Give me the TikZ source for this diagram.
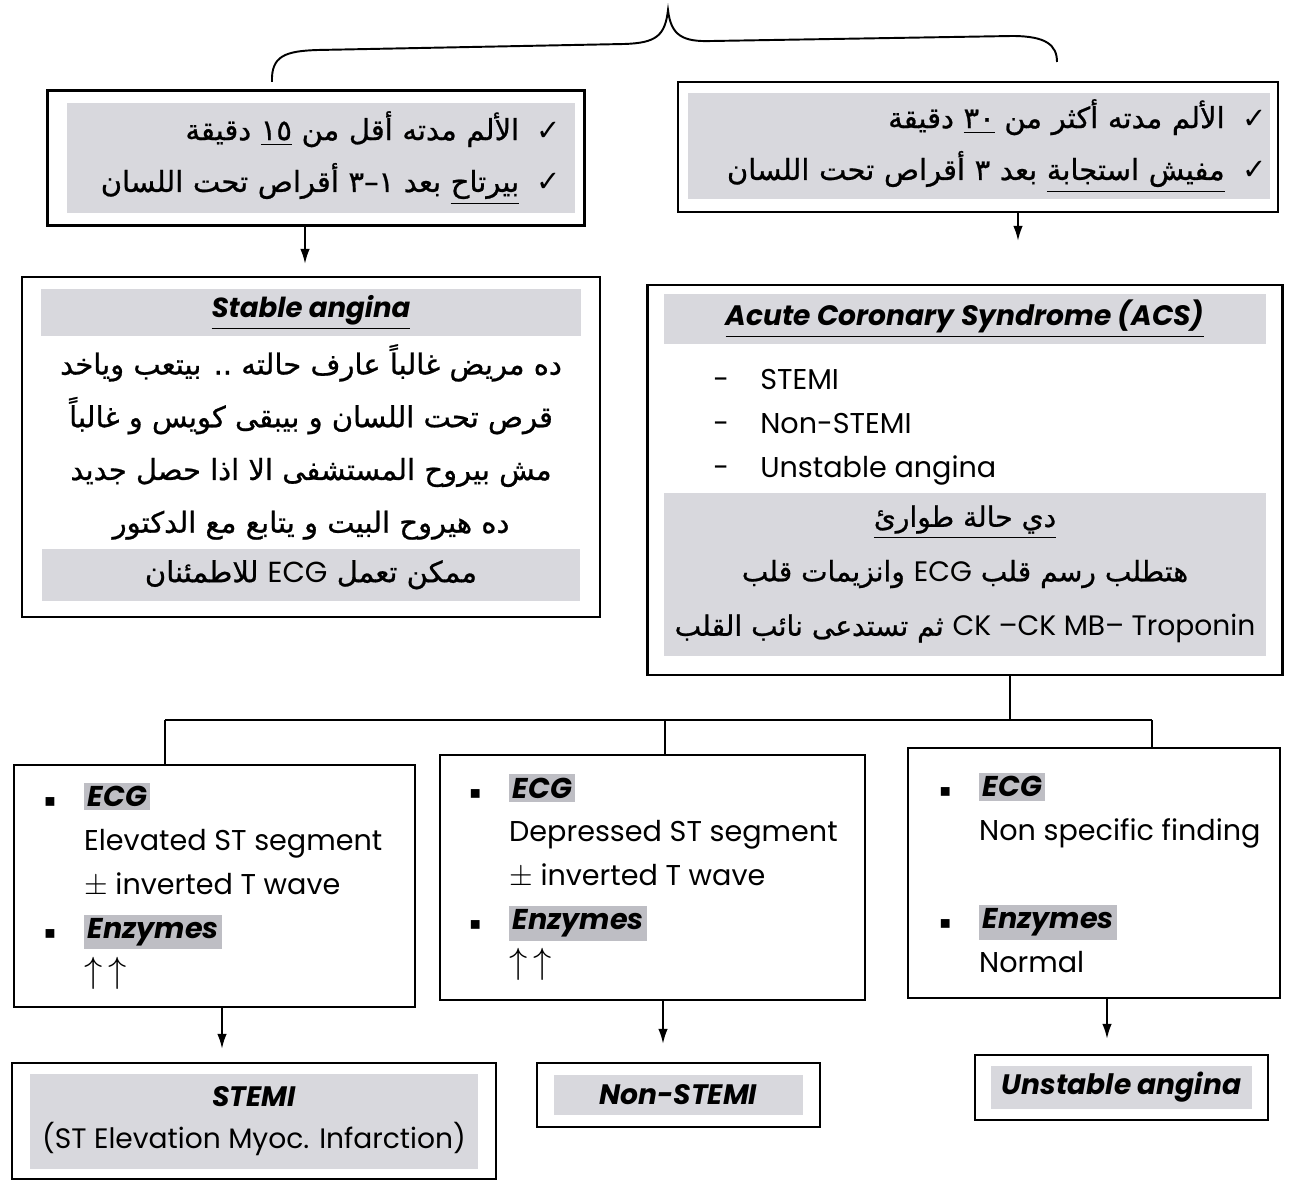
\documentclass[tikz,border=0pt]{standalone}
\usepackage{fontspec}
\usepackage{amssymb}
\setmainfont{Poppins}
\newfontfamily\arabicfont[Script=Arabic, FakeBold=0.8]{DejaVu Sans}
\newfontfamily\symfont{DejaVu Sans}
\usetikzlibrary{arrows.meta}
\usetikzlibrary{positioning}
\TeXXeTstate=1

\definecolor{bandgray}{RGB}{216,216,221}
\definecolor{hlgray}{RGB}{190,190,196}

\newcommand{\arab}[1]{\leavevmode{\arabicfont\beginR #1\endR}}
\newcommand{\entxt}[1]{{\rmfamily #1}}
\newcommand{\chk}{{\symfont ✓}\hspace{0.35cm}}
\newcommand{\hlbox}[1]{{\setlength{\fboxsep}{2pt}\colorbox{hlgray}{\textbf{\textit{#1}}}}}
\newcommand{\bul}{\makebox[0.8cm][l]{\symfont\fontsize{10}{10}\selectfont ▪}}
\newcommand{\indt}{\hspace*{0.8cm}}
\newcommand{\ttl}[1]{\underline{\textbf{\textit{#1}}}}
\newcommand{\upup}{{\fontsize{20}{20}\selectfont$\uparrow\,\uparrow$}}

\begin{document}
\begin{tikzpicture}
  [
    x=0.02cm, y=-0.02cm,
    every node/.style={align=center, inner sep=0pt},
    boxframe/.style={draw, line width=1.3pt, fill=white},
    band/.style={fill=bandgray},
    arabtxt/.style={font=\fontsize{16.5}{29.5}\selectfont},
    findings/.style={align=left, font=\fontsize{16.3}{25}\selectfont},
    diag/.style={font=\fontsize{16}{24}\selectfont},
    link/.style={line width=1.1pt},
    arr/.style={link, -{Latex[length=0.3cm, width=0.19cm]}}
  ]

  \useasboundingbox (0,0) rectangle (1290,1182);

  % brace over both cases
  \draw[link] (272,82) .. controls (271,56) and (285,51) .. (318,50) -- (624,44)
    .. controls (656,43) and (665,36) .. (668,10)
    .. controls (671,36) and (683,42) .. (712,41) -- (1012,36)
    .. controls (1046,36) and (1057,45) .. (1057,62);

  % the two cases
  \node[boxframe, minimum width=10.74cm, minimum height=2.7cm] (short) at (316,158) {};
  \node[band, arabtxt, minimum width=10.16cm, minimum height=2.22cm, text width=9.6cm, align=right] (shorttxt) at (321,158)
    {\arab{\chk الألم مدته أقل من \underline{١٥} دقيقة}\\
     \arab{\chk\underline{بيرتاح} بعد ١–٣ أقراص تحت اللسان}};

  \node[boxframe, minimum width=12cm, minimum height=2.6cm] (long) at (978,147) {};
  \node[band, arabtxt, minimum width=11.64cm, minimum height=2.14cm, text width=11.5cm, align=right] (longtxt) at (979,146)
    {\arab{\chk الألم مدته أكثر من \underline{٣٠} دقيقة}\\
     \arab{\chk\underline{\beginR مفيش استجابة\endR} بعد ٣ أقراص تحت اللسان}};

  % stable angina
  \node[boxframe, minimum width=11.56cm, minimum height=6.8cm] (stab) at (311,447) {};
  \node[band, minimum width=10.8cm, minimum height=0.94cm, below=0.26cm of stab.north, font=\fontsize{15.7}{18}\selectfont] (stabttl)
    {\ttl{Stable angina}};
  \node[font=\fontsize{16.5}{30}\selectfont] (stabtxt) at (311,442)
    {\arab{ده مريض غالباً عارف حالته .. بيتعب وياخد}\\
     \arab{قرص تحت اللسان و بيبقى كويس و غالباً}\\
     \arab{مش بيروح المستشفى الا اذا حصل جديد}\\
     \arab{ده هيروح البيت و يتابع مع الدكتور}};
  \node[band, arabtxt, minimum width=10.76cm, minimum height=1.04cm, above=0.34cm of stab.south] (stabecg)
    {\arab{ممكن تعمل \entxt{ECG} للاطمئنان}};

  % acute coronary syndrome
  \node[boxframe, minimum width=12.7cm, minimum height=7.8cm] (acs) at (965,480) {};
  \node[band, minimum width=12.04cm, minimum height=1cm, below=0.2cm of acs.north, font=\fontsize{16}{18}\selectfont] (acsttl)
    {\ttl{Acute Coronary Syndrome (ACS)}};
  \node[findings, anchor=west] (acslist) at (713,427)
    {\makebox[0.94cm][l]{-}STEMI\\ \makebox[0.94cm][l]{-}Non-STEMI\\ \makebox[0.94cm][l]{-}Unstable angina};
  \node[band, minimum width=12.04cm, minimum height=3.26cm, above=0.4cm of acs.south, font=\fontsize{16}{31}\selectfont] (acser)
    {\arab{\underline{\beginR دي حالة طوارئ\endR}}\\
     \arab{هتطلب رسم قلب \entxt{ECG} وانزيمات قلب}\\
     \arab{\beginL\entxt{CK –CK MB– Troponin}\endL{} ثم تستدعى نائب القلب}};

  % findings
  \node[boxframe, minimum width=8.02cm, minimum height=4.84cm] (ste) at (214.5,886) {};
  \node[findings, right=0.62cm of ste.west] (stetxt)
    {\bul\hlbox{ECG}\\ \indt Elevated ST segment\\ \indt $\pm$ inverted T wave\\ \bul\hlbox{Enzymes}\\ \indt\upup};

  \node[boxframe, minimum width=8.5cm, minimum height=4.9cm] (nste) at (652.5,877.5) {};
  \node[findings, right=0.6cm of nste.west] (nstetxt)
    {\bul\hlbox{ECG}\\ \indt Depressed ST segment\\ \indt $\pm$ inverted T wave\\ \bul\hlbox{Enzymes}\\ \indt\upup};

  \node[boxframe, minimum width=7.44cm, minimum height=5cm] (ua) at (1094,873) {};
  \node[findings, right=0.64cm of ua.west] (uatxt)
    {\bul\hlbox{ECG}\\ \indt Non specific finding\\[25pt] \bul\hlbox{Enzymes}\\ \indt Normal};

  % diagnoses
  \node[boxframe, minimum width=9.68cm, minimum height=2.32cm] (stemi) at (254,1121) {};
  \node[band, diag, minimum width=8.96cm, minimum height=1.9cm] (stemitxt) at (stemi)
    {\textbf{\textit{STEMI}}\\ (ST Elevation Myoc. Infarction)};
  \node[boxframe, minimum width=5.66cm, minimum height=1.28cm] (nstemi) at (678.5,1095) {};
  \node[band, diag, minimum width=5cm, minimum height=0.8cm] (nstemitxt) at (nstemi) {\textbf{\textit{Non-STEMI}}};
  \node[boxframe, minimum width=5.86cm, minimum height=1.3cm] (unst) at (1121.5,1087.5) {};
  \node[band, diag, minimum width=5.24cm, minimum height=0.86cm] (unsttxt) at (unst) {\textbf{\textit{Unstable angina}}};

  % connectors
  \draw[arr, shorten >=0.24cm] ([xshift=-0.22cm]short.south) -- ([xshift=-0.22cm]short.south |- stab.north);
  \draw[arr, shorten >=0.86cm] ([xshift=0.8cm]long.south) -- ([xshift=0.8cm]long.south |- acs.north);

  \coordinate (jn) at (1010,720);
  \coordinate (jE) at (165,720);
  \coordinate (jF) at (665,720);
  \coordinate (jG) at (1152,720);
  \draw[link] (acs.south -| jn) -- (jn);
  \draw[link] (jE) -- (jG);
  \draw[link] (jE) -- (jE |- ste.north);
  \draw[link] (jF) -- (jF |- nste.north);
  \draw[link] (jG) -- (jG |- ua.north);

  \draw[arr, shorten >=0.26cm] ([xshift=0.15cm]ste.south) -- ([xshift=0.15cm]ste.south |- stemi.north);
  \draw[arr, shorten >=0.36cm] ([xshift=0.21cm]nste.south) -- ([xshift=0.21cm]nste.south |- nstemi.north);
  \draw[arr, shorten >=0.3cm] ([xshift=0.26cm]ua.south) -- ([xshift=0.26cm]ua.south |- unst.north);
\end{tikzpicture}
\end{document}
